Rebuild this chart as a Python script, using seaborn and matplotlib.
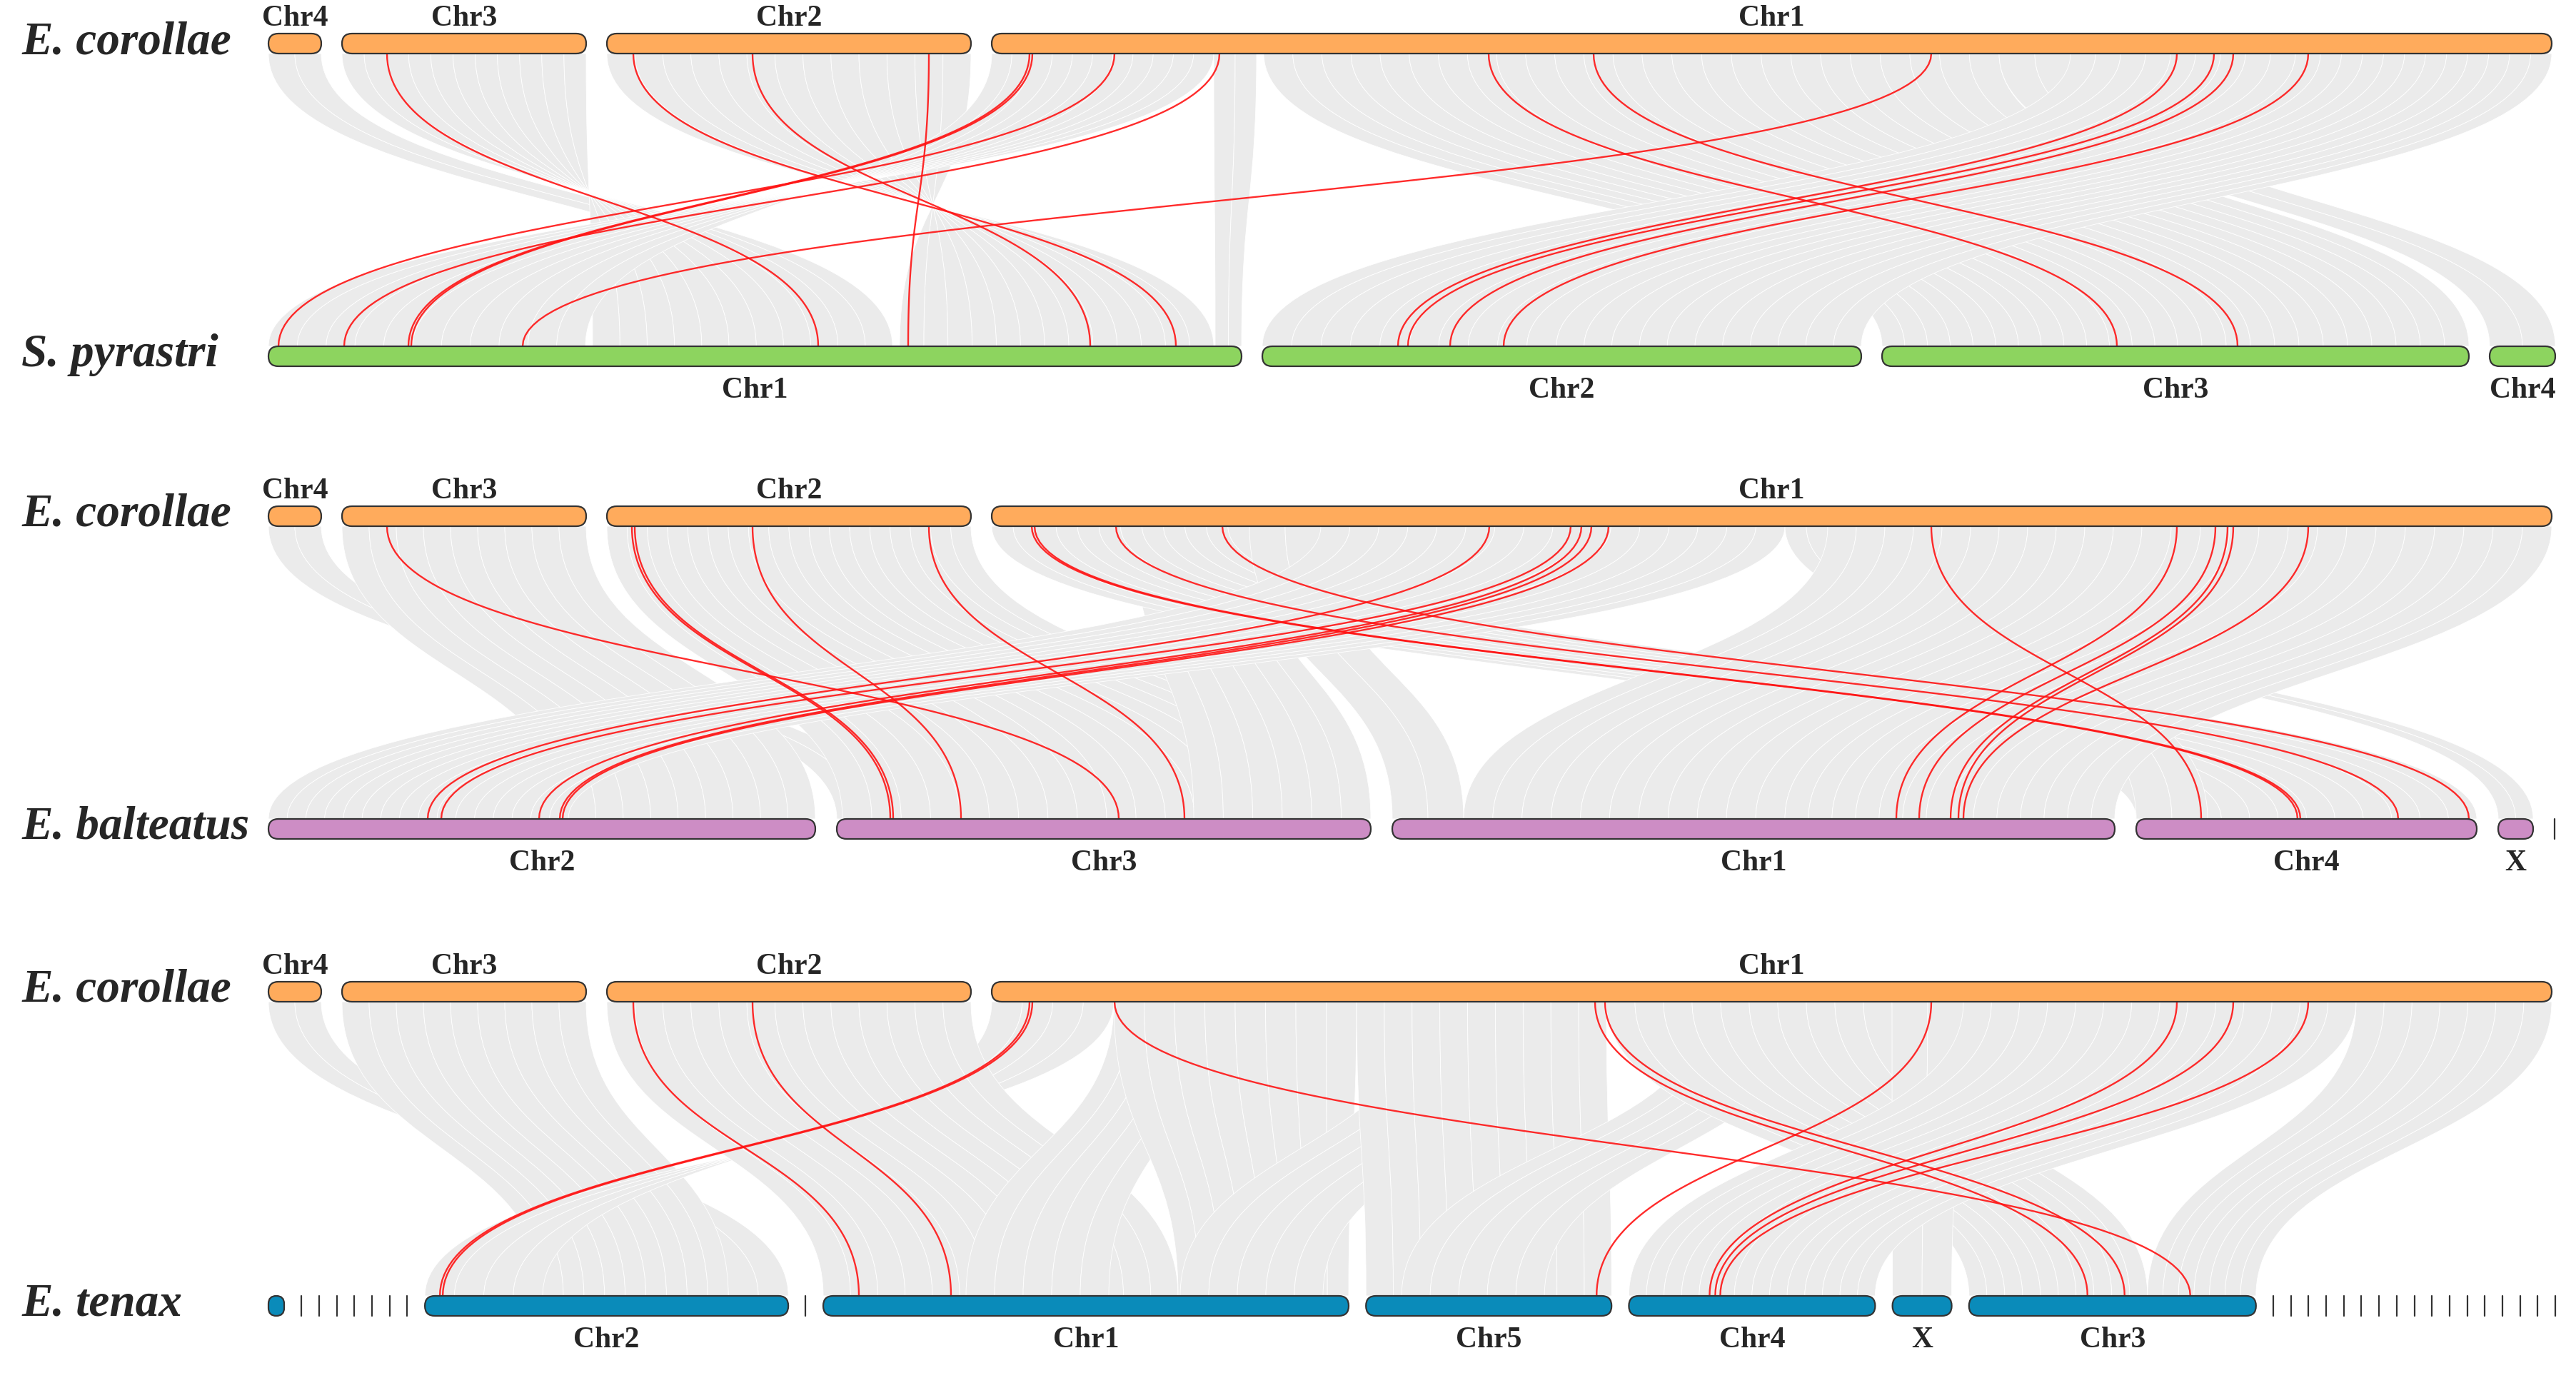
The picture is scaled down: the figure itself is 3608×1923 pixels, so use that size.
"""
synteny.py - E. corollae collinearity against three hoverfly genomes.

Gray ribbons are syntenic blocks, red curves are the highlighted gene pairs.
"""

import matplotlib
matplotlib.use('Agg')
import matplotlib.pyplot as plt
from matplotlib.path import Path
from matplotlib.patches import PathPatch, FancyBboxPatch
import numpy as np
import pandas as pd
import seaborn as sns


# chromosome order and lengths (1 unit = 10 px)
ECOR_CHR = ['Chr4', 'Chr3', 'Chr2', 'Chr1']
ECOR_LEN = [7.4, 34.2, 51.0, 218.5]

SPYR_CHR = ['Chr1', 'Chr2', 'Chr3', 'Chr4']
SPYR_LEN = [136.3, 83.9, 82.2, 9.2]

EBAL_CHR = ['Chr2', 'Chr3', 'Chr1', 'Chr4', 'X', 'scf1']
EBAL_LEN = [76.6, 74.8, 101.2, 47.7, 4.9, 0.05]

ETEN_CHR = ['scf1', 'scf2', 'scf3', 'scf4', 'scf5', 'scf6', 'scf7', 'scf8',
            'Chr2', 'scf9', 'Chr1', 'Chr5', 'Chr4', 'X', 'Chr3',
            'scf10', 'scf11', 'scf12', 'scf13', 'scf14', 'scf15', 'scf16',
            'scf17', 'scf18', 'scf19', 'scf20', 'scf21', 'scf22', 'scf23',
            'scf24', 'scf25', 'scf26']
ETEN_LEN = [2.2, 0.05, 0.05, 0.05, 0.05, 0.05, 0.05, 0.05,
            50.9, 0.05, 73.6, 34.4, 34.5, 8.3, 40.2,
            0.05, 0.05, 0.05, 0.05, 0.05, 0.05, 0.05,
            0.05, 0.05, 0.05, 0.05, 0.05, 0.05, 0.05,
            0.05, 0.05, 0.05]

# syntenic blocks: (E. corollae chr, start, end, other chr, start, end)
P1_BLOCKS = [
    ('Chr4', 0.0, 7.4, 'Chr1', 77.4, 85.4),
    ('Chr3', 0.0, 34.2, 'Chr1', 87.4, 45.4),
    ('Chr2', 0.0, 51.0, 'Chr1', 132.4, 88.4),
    ('Chr1', 0.0, 31.1, 'Chr1', 44.4, 0.0),
    ('Chr1', 31.1, 37.1, 'Chr1', 132.6, 136.3),
    ('Chr1', 38.1, 91.1, 'Chr3', 0.0, 41.4),
    ('Chr1', 91.1, 141.1, 'Chr3', 41.4, 82.2),
    ('Chr1', 141.1, 151.1, 'Chr4', 0.0, 9.2),
    ('Chr1', 151.1, 186.1, 'Chr2', 0.0, 41.2),
    ('Chr1', 186.1, 218.5, 'Chr2', 41.2, 83.9),
]
P2_BLOCKS = [
    ('Chr4', 0.0, 7.4, 'Chr3', 0.0, 7.8),
    ('Chr3', 0.0, 34.2, 'Chr2', 42.0, 76.6),
    ('Chr2', 0.0, 51.0, 'Chr3', 0.8, 74.8),
    ('Chr1', 20.0, 36.1, 'Chr3', 50.0, 74.8),
    ('Chr1', 0.0, 36.1, 'Chr4', 0.0, 47.7),
    ('Chr1', 36.1, 46.1, 'Chr1', 0.0, 10.0),
    ('Chr1', 46.1, 111.1, 'Chr2', 0.0, 42.0),
    ('Chr1', 111.1, 117.1, 'X', 0.0, 4.9),
    ('Chr1', 126.0, 136.0, 'Chr4', 0.0, 10.0),
    ('Chr1', 117.1, 161.1, 'Chr1', 10.0, 55.0),
    ('Chr1', 161.1, 218.5, 'Chr1', 55.0, 101.2),
]
P3_BLOCKS = [
    ('Chr4', 0.0, 7.4, 'Chr2', 42.5, 50.9),
    ('Chr3', 0.0, 34.2, 'Chr2', 16.5, 42.5),
    ('Chr1', 0.0, 17.1, 'Chr2', 16.5, 0.0),
    ('Chr2', 0.0, 51.0, 'Chr1', 0.0, 49.7),
    ('Chr1', 17.1, 30.0, 'Chr1', 20.0, 40.0),
    ('Chr1', 17.1, 51.1, 'Chr1', 49.7, 73.6),
    ('Chr1', 60.0, 80.0, 'Chr1', 50.0, 70.0),
    ('Chr1', 51.1, 86.1, 'Chr5', 0.0, 34.4),
    ('Chr1', 100.0, 115.0, 'Chr5', 5.0, 25.0),
    ('Chr1', 86.1, 126.1, 'Chr3', 0.0, 25.0),
    ('Chr1', 126.1, 136.1, 'X', 0.0, 8.3),
    ('Chr1', 136.1, 191.1, 'Chr4', 0.0, 34.5),
    ('Chr1', 191.1, 218.5, 'Chr3', 25.0, 40.2),
]

# highlighted gene pairs: (E. corollae chr, pos, other chr, pos)
P1_LINKS = [
    ('Chr3', 6.3, 'Chr1', 77.0),
    ('Chr2', 3.7, 'Chr1', 127.1),
    ('Chr2', 20.4, 'Chr1', 115.1),
    ('Chr2', 45.1, 'Chr1', 89.6),
    ('Chr1', 5.3, 'Chr1', 19.6),
    ('Chr1', 5.7, 'Chr1', 20.0),
    ('Chr1', 17.2, 'Chr1', 1.4),
    ('Chr1', 31.9, 'Chr1', 10.6),
    ('Chr1', 69.6, 'Chr3', 32.9),
    ('Chr1', 84.3, 'Chr3', 49.8),
    ('Chr1', 131.6, 'Chr1', 35.6),
    ('Chr1', 166.0, 'Chr2', 19.0),
    ('Chr1', 171.2, 'Chr2', 20.4),
    ('Chr1', 173.9, 'Chr2', 26.3),
    ('Chr1', 184.4, 'Chr2', 33.8),
]
P2_LINKS = [
    ('Chr3', 6.3, 'Chr3', 39.5),
    ('Chr2', 3.5, 'Chr3', 7.5),
    ('Chr2', 3.9, 'Chr3', 7.9),
    ('Chr2', 20.4, 'Chr3', 17.4),
    ('Chr2', 45.1, 'Chr3', 48.7),
    ('Chr1', 5.6, 'Chr4', 22.6),
    ('Chr1', 6.0, 'Chr4', 23.0),
    ('Chr1', 17.4, 'Chr4', 36.7),
    ('Chr1', 32.3, 'Chr4', 46.6),
    ('Chr1', 69.7, 'Chr2', 22.3),
    ('Chr1', 81.1, 'Chr2', 24.2),
    ('Chr1', 82.6, 'Chr2', 37.9),
    ('Chr1', 84.0, 'Chr2', 40.8),
    ('Chr1', 86.4, 'Chr2', 41.2),
    ('Chr1', 131.6, 'Chr4', 9.1),
    ('Chr1', 166.0, 'Chr1', 70.6),
    ('Chr1', 171.4, 'Chr1', 73.8),
    ('Chr1', 173.1, 'Chr1', 78.2),
    ('Chr1', 173.9, 'Chr1', 79.3),
    ('Chr1', 184.4, 'Chr1', 80.0),
]
P3_LINKS = [
    ('Chr2', 3.7, 'Chr1', 5.0),
    ('Chr2', 20.4, 'Chr1', 17.9),
    ('Chr1', 5.3, 'Chr2', 2.1),
    ('Chr1', 5.7, 'Chr2', 2.5),
    ('Chr1', 17.2, 'Chr3', 31.0),
    ('Chr1', 84.5, 'Chr3', 16.6),
    ('Chr1', 85.9, 'Chr3', 21.8),
    ('Chr1', 131.6, 'Chr5', 32.3),
    ('Chr1', 166.0, 'Chr4', 11.3),
    ('Chr1', 173.9, 'Chr4', 12.1),
    ('Chr1', 184.4, 'Chr4', 12.8),
]

# layout / style
W, H, DPI = 3608, 1924, 200
PX = 10.0          # px per length unit
X0 = 376
BAR_H = 28
COL_ECOR = '#FFAB5C'
COL_SPYR = '#8DD45F'
COL_EBAL = '#CD8DC5'
COL_ETEN = '#0A8BBA'
GRAY = '#ebebeb'
RED = '#ff1414'

PANELS = [
    # top y, bottom y, other genome, chromosomes, gap, colour, blocks, links
    (62, 500, 'S. pyrastri', SPYR_CHR, SPYR_LEN, 2.9, COL_SPYR, P1_BLOCKS, P1_LINKS),
    (724, 1162, 'E. balteatus', EBAL_CHR, EBAL_LEN, 3.0, COL_EBAL, P2_BLOCKS, P2_LINKS),
    (1390, 1830, 'E. tenax', ETEN_CHR, ETEN_LEN, 2.42, COL_ETEN, P3_BLOCKS, P3_LINKS),
]


def layout(names, lens, gap):
    """Start x and width (px) of every chromosome in a row."""
    pos = {}
    x = X0
    for n, L in zip(names, lens):
        pos[n] = (x, L * PX)
        x += (L + gap) * PX
    return pos


def draw_row(ax, pos, yc, color, below):
    for name, (x, w) in pos.items():
        if w < 3:
            ax.plot([x, x], [yc - BAR_H / 2, yc + BAR_H / 2], color='#333333',
                    lw=0.8, zorder=4)
            continue
        r = min(BAR_H / 2, w / 2)
        box = FancyBboxPatch((x, yc - BAR_H / 2), w, BAR_H,
                             boxstyle=f'round,pad=0,rounding_size={r}',
                             facecolor=color, edgecolor='#333333', lw=0.8, zorder=4)
        ax.add_patch(box)
        if name.startswith('scf'):
            continue
        ty = yc + 57 if below else yc - 26
        ax.text(x + w / 2, ty, name, ha='center', va='baseline',
                fontsize=15, fontweight='bold', zorder=5)


def ribbon(ax, xt0, xt1, xb0, xb1, yt, yb):
    ym = (yt + yb) / 2
    verts = [(xt0, yt), (xt0, ym), (xb0, ym), (xb0, yb), (xb1, yb),
             (xb1, ym), (xt1, ym), (xt1, yt), (xt0, yt)]
    codes = [Path.MOVETO, Path.CURVE4, Path.CURVE4, Path.CURVE4, Path.LINETO,
             Path.CURVE4, Path.CURVE4, Path.CURVE4, Path.CLOSEPOLY]
    ax.add_patch(PathPatch(Path(verts, codes), facecolor=GRAY,
                           edgecolor='white', lw=0.3, zorder=1))


def bezier(x0, x1, y0, y1, n=80):
    t = np.linspace(0, 1, n)
    ym = (y0 + y1) / 2
    a, b, c, d = (1 - t) ** 3, 3 * (1 - t) ** 2 * t, 3 * (1 - t) * t ** 2, t ** 3
    return (a + b) * x0 + (c + d) * x1, a * y0 + (b + c) * ym + d * y1


sns.set_theme(style='white')
plt.rcParams['font.family'] = ['Liberation Serif', 'DejaVu Serif']

fig = plt.figure(figsize=(W / DPI, H / DPI), dpi=DPI)
ax = fig.add_axes([0, 0, 1, 1])

top_pos = layout(ECOR_CHR, ECOR_LEN, 2.9)
link_rows = []

for k, (yt, yb, sp, names, lens, gap, col, blocks, links) in enumerate(PANELS):
    bot_pos = layout(names, lens, gap)
    y0, y1 = yt + BAR_H / 2, yb - BAR_H / 2

    for tc, t0, t1, bc, b0, b1 in blocks:
        xt, xb = top_pos[tc][0], bot_pos[bc][0]
        n = max(1, int(round(max(abs(t1 - t0), abs(b1 - b0)) * PX / 40)))
        for i in range(n):
            f0, f1 = i / n, (i + 1) / n
            ribbon(ax,
                   xt + (t0 + (t1 - t0) * f0) * PX, xt + (t0 + (t1 - t0) * f1) * PX,
                   xb + (b0 + (b1 - b0) * f0) * PX, xb + (b0 + (b1 - b0) * f1) * PX,
                   y0, y1)

    for j, (tc, tp, bc, bp) in enumerate(links):
        xs, ys = bezier(top_pos[tc][0] + tp * PX, bot_pos[bc][0] + bp * PX, y0, y1)
        link_rows.append(pd.DataFrame({'x': xs, 'y': ys, 'link': f'{k}-{j}'}))

    draw_row(ax, top_pos, yt, COL_ECOR, below=False)
    draw_row(ax, bot_pos, yb, col, below=True)

    for label, yc in (('E. corollae', yt), (sp, yb)):
        ax.text(30, yc + 13, label, ha='left', va='baseline', fontsize=23.5,
                fontweight='bold', fontstyle='italic', zorder=5)

links_df = pd.concat(link_rows, ignore_index=True)
sns.lineplot(data=links_df, x='x', y='y', units='link', estimator=None,
             sort=False, color=RED, linewidth=0.85, alpha=0.9, ax=ax,
             legend=False, zorder=3)

ax.set_xlim(0, W)
ax.set_ylim(H, 0)
ax.axis('off')

fig.savefig('out.png', dpi=DPI, facecolor='white')
